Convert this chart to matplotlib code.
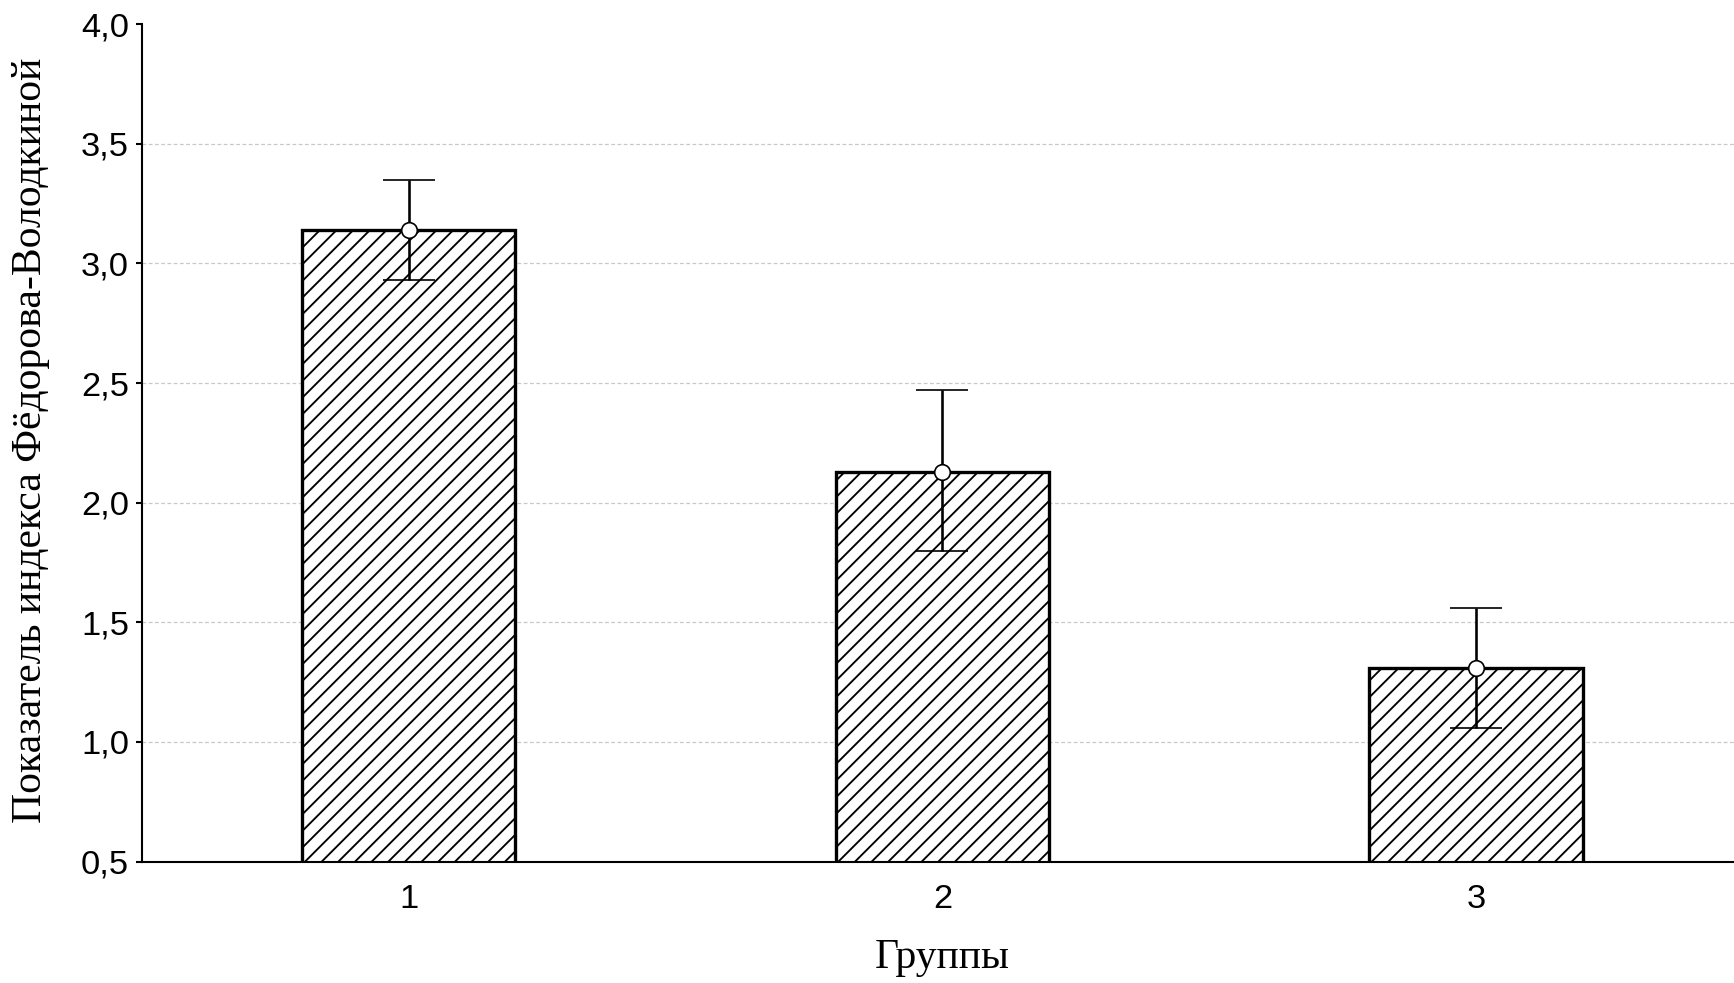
import matplotlib
matplotlib.use("Agg")
import matplotlib.pyplot as plt
import numpy as np

groups = ["1", "2", "3"]
means = [3.14, 2.13, 1.31]
err_upper = [0.21, 0.34, 0.25]
err_lower = [0.21, 0.33, 0.25]
yticks = [0.5, 1.0, 1.5, 2.0, 2.5, 3.0, 3.5, 4.0]
ytick_labels = ["0,5", "1,0", "1,5", "2,0", "2,5", "3,0", "3,5", "4,0"]
xlabel = "Группы"
ylabel = "Показатель индекса Фёдорова-Володкиной"

DPI = 150
plt.rcParams['hatch.linewidth'] = 0.9
plt.rcParams['hatch.color'] = '#202020'
fig = plt.figure(figsize=(1734 / DPI, 983 / DPI), dpi=DPI)
ax = fig.add_axes([0.0817, 0.1236, 0.9235, 0.8517])

x = np.arange(1, len(groups) + 1)
ax.bar(x, means, width=0.4, bottom=0, color='white', edgecolor='black',
       linewidth=1.6, hatch='///', zorder=2)
ax.errorbar(x, means, yerr=[err_lower, err_upper], fmt='o', color='black',
            ecolor='black', elinewidth=1.25, capsize=12.5, capthick=1.25,
            markersize=7.5, markerfacecolor='white', markeredgecolor='black',
            markeredgewidth=0.8, zorder=3)

ax.set_xlim(0.5, 3.5)
ax.set_ylim(0.5, 4.0)
ax.set_yticks(yticks)
ax.set_yticklabels(ytick_labels)
ax.set_xticks(x)
ax.set_xticklabels(groups)

for t in ax.get_yticklabels() + ax.get_xticklabels():
    t.set_fontfamily(['Liberation Sans', 'DejaVu Sans'])
    t.set_fontsize(16.5)

ax.tick_params(axis='y', direction='out', length=3, width=1.0, pad=3)
ax.tick_params(axis='x', direction='in', length=3, width=1.0, pad=11)

ax.yaxis.grid(True, linestyle=(0, (3, 2)), color='#c8c8c8', linewidth=0.6, zorder=0)
ax.set_axisbelow(True)
ax.yaxis.get_gridlines()[-1].set_visible(False)

for s in ['top', 'right']:
    ax.spines[s].set_visible(False)
for s in ['left', 'bottom']:
    ax.spines[s].set_linewidth(1.0)
    ax.spines[s].set_color('black')

ax.set_xlabel(xlabel, fontfamily=['Liberation Serif', 'DejaVu Serif'], fontsize=20)
ax.set_ylabel(ylabel, fontfamily=['Liberation Serif', 'DejaVu Serif'], fontsize=20)
ax.xaxis.set_label_coords(0.5, -0.1153)
ax.xaxis.label.set_va('center')
ax.yaxis.set_label_coords(-0.069, 0.5025)
ax.yaxis.label.set_va('center')

fig.savefig("out.png", dpi=DPI)
